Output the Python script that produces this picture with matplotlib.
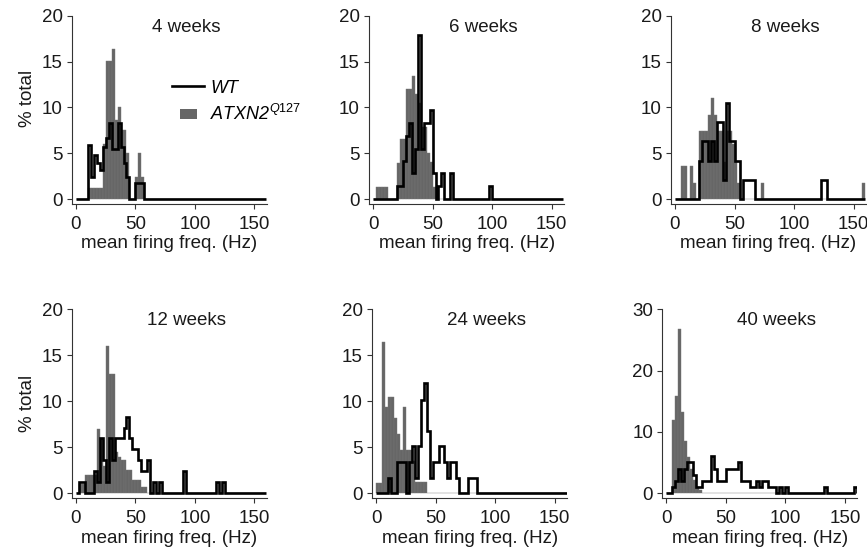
import numpy as np
import matplotlib.pyplot as plt
from matplotlib.lines import Line2D
from matplotlib.patches import Patch, Rectangle
from matplotlib.legend_handler import HandlerPatch

plt.rcParams['font.family'] = ['Liberation Sans', 'DejaVu Sans']
plt.rcParams['mathtext.fontset'] = 'custom'
plt.rcParams['mathtext.rm'] = 'Liberation Sans'
plt.rcParams['mathtext.it'] = 'Liberation Sans:italic'

# histogram bins: 2.5 Hz wide, 0-160 Hz; values are % of cells per bin
bin_edges = np.arange(0, 162.5, 2.5)

atxn_4wk = [0, 0, 0, 0, 1.2, 1.2, 1.2, 1.2, 1.2, 6, 15.1, 15.1, 16.4, 8.6, 10.1, 7.5,
            7.5, 5, 0, 0, 2.4, 5, 2.4]
wt_4wk = [0, 0, 0, 0, 5.9, 2.4, 4.8, 3.9, 3.2, 5.7, 6.7, 8.3, 5.5, 5.5, 8.3, 5.7,
          3.9, 2.4, 0, 0, 1.7, 1.7, 1.7]

atxn_6wk = [0, 1.3, 1.3, 1.3, 1.3, 0, 0, 0, 3.9, 6.6, 6.6, 12, 12, 13.4, 11.5, 10.5,
            7.9, 7.9, 5, 4, 1.3, 1.3]
wt_6wk = [0, 0, 0, 0, 0, 0, 0, 0, 1.4, 1.4, 4.1, 6.9, 8.3, 2.8, 5.5, 17.9,
          5.5, 8.3, 8.3, 9.7, 2.8, 0, 1.4, 2.8, 0, 0, 2.8, 0] + [0] * 11 + [1.4]

atxn_8wk = [0, 0, 3.6, 3.6, 0, 3.6, 1.7, 0, 7.4, 7.4, 7.4, 9.2, 11, 9.2, 7.4, 7.4,
            4, 7.4, 7.4, 6, 4, 1.8, 0, 0, 0, 0, 0, 0, 0, 1.8] + [0] * 33 + [1.8]
wt_8wk = [0, 0, 0, 0, 0, 0, 0, 0, 4.2, 6.3, 6.3, 4.2, 6.3, 4.2, 8.4, 8.4,
          2.1, 10.5, 6.3, 6.3, 4.2, 4.2, 0, 2.1, 2.1, 2.1, 2.1] + [0] * 22 + [2.1, 2.1]

atxn_12wk = [0, 1, 1, 2, 2, 2, 2, 7, 6, 3, 16, 13, 13, 4.5, 4, 3.6,
             3.6, 2.5, 2.5, 1.5, 1.5, 1.5, 0.7, 0.7]
wt_12wk = [0, 1.2, 1.2, 0, 0, 0, 2.4, 1.2, 6, 3.6, 1.2, 6, 3.6, 6, 6, 6,
           7.1, 8.3, 6, 4.8, 4.8, 3.6, 2.4, 2.4, 3.6, 0, 1.2, 0, 1.2, 0, 0, 0,
           0, 0, 0, 0, 2.4] + [0] * 10 + [1.2, 0, 1.2]

atxn_24wk = [1.1, 1.1, 16.4, 9.4, 10.5, 10.5, 8.2, 6.5, 4.7, 9.4, 4.7, 4.7,
             3.5, 1.2, 1.2, 1.2, 1.2]
wt_24wk = [0, 0, 0, 0, 1.7, 0, 0, 3.4, 3.4, 3.4, 0, 3.4, 5.1, 1.7, 5.1, 10.1,
           12, 6.8, 1.7, 3.4, 3.4, 5.1, 5.1, 3.4, 1.7, 3.4, 3.4, 1.7, 0, 0, 0, 1.7,
           1.7, 1.7]

atxn_40wk = [0, 0, 12, 15.8, 26.8, 13.2, 8.5, 6, 4, 2.2, 1.1, 0.5]
wt_40wk = [0, 0, 1, 2, 4, 2, 4, 5.1, 5.1, 3, 1, 1, 2, 2, 2, 6.1,
           4, 2, 2, 2, 4, 4, 4, 4, 5.1, 2, 2, 2, 1, 1, 2, 1,
           2, 2, 1, 1, 1, 0, 1, 0, 1] + [0] * 12 + [1] + [0] * 9 + [1]

titles = ['4 weeks', '6 weeks', '8 weeks', '12 weeks', '24 weeks', '40 weeks']
atxn_all = [atxn_4wk, atxn_6wk, atxn_8wk, atxn_12wk, atxn_24wk, atxn_40wk]
wt_all = [wt_4wk, wt_6wk, wt_8wk, wt_12wk, wt_24wk, wt_40wk]
ymax = [20, 20, 20, 20, 20, 30]

GRAY = '#666666'
AXC = '#333333'
TXT = '#1a1a1a'
FS = 13.5


def full(vals):
    v = np.zeros(len(bin_edges) - 1)
    v[:len(vals)] = vals
    return v


def small_square(legend, orig_handle, xdescent, ydescent, width, height, fontsize):
    return Rectangle((-xdescent + 0.24 * width, -ydescent + 0.05 * height),
                     0.53 * width, 0.8 * height)


fig = plt.figure(figsize=(8.67, 5.57), dpi=100)

# axes boxes in figure fractions
lefts = [0.083, 0.4257, 0.774, 0.083, 0.4292, 0.764]
bottoms = [0.6345] * 3 + [0.1061] * 3
w = 0.2249
hs = [0.3368] * 3 + [0.3386] * 3

for i in range(6):
    ax = fig.add_axes([lefts[i], bottoms[i], w, hs[i]])
    ax.bar(bin_edges[:-1], full(atxn_all[i]), width=2.5, align='edge', color=GRAY,
           edgecolor='#767676', linewidth=0.3, zorder=2)
    ax.stairs(full(wt_all[i]), bin_edges, color='k', lw=1.9, zorder=3)

    ax.set_xlim(-3.3, 160.5)
    ax.set_ylim(-ymax[i] * 0.025, ymax[i])
    ax.set_xticks([0, 50, 100, 150])
    if ymax[i] == 30:
        ax.set_yticks([0, 10, 20, 30])
    else:
        ax.set_yticks([0, 5, 10, 15, 20])

    for s in ['top', 'right']:
        ax.spines[s].set_visible(False)
    for s in ['left', 'bottom']:
        ax.spines[s].set_color(AXC)
        ax.spines[s].set_linewidth(0.8)
    ax.tick_params(direction='out', length=3.6, width=0.8, color=AXC, labelsize=FS,
                   labelcolor=TXT)
    ax.tick_params(axis='x', pad=5)
    ax.tick_params(axis='y', pad=3)

    ax.text(0.585, 0.938, titles[i], transform=ax.transAxes, ha='center', va='center',
            fontsize=FS, color=TXT)
    ax.set_xlabel('mean firing freq. (Hz)', fontsize=FS, labelpad=2, color=TXT)

    if i in (0, 3):
        ax.set_ylabel('% total', fontsize=FS, color=TXT)
        ax.yaxis.set_label_coords(-0.185, 0.56 if i == 0 else 0.5)

    if i == 0:
        handles = [Line2D([], [], color='k', lw=1.9),
                   Patch(facecolor=GRAY, edgecolor='none')]
        labels = ['WT', r'ATXN2$^{\mathit{Q127}}$']
        ax.legend(handles, labels, loc='upper left', bbox_to_anchor=(0.513, 0.66),
                  frameon=False, prop={'size': 13, 'style': 'italic'},
                  handlelength=1.78, handletextpad=0.35,
                  borderpad=0, borderaxespad=0, labelspacing=0.4,
                  handler_map={Patch: HandlerPatch(patch_func=small_square)})

fig.savefig('out.png', dpi=100)
